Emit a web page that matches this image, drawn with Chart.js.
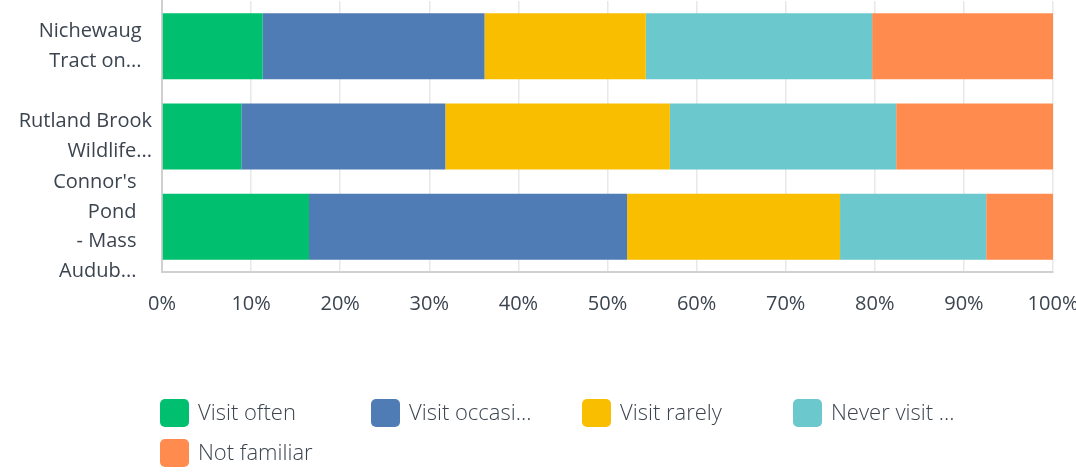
<!DOCTYPE html>
<html>
<head>
<meta charset="utf-8">
<script src="https://cdn.jsdelivr.net/npm/chart.js@4/dist/chart.umd.min.js"></script>
<style>
  body { margin: 0; background: #fff; }
  #wrap { width: 1076px; height: 472px; position: relative; }
</style>
</head>
<body>
<div id="wrap"><canvas id="myChart"></canvas></div>
<script>
// kategoriler (ekranda görünen kısaltılmış haliyle)
const categories = [
    ['Nichewaug  ', 'Tract on...  '],
    ['Rutland Brook', 'Wildlife...'],
    ["Connor's   ", 'Pond   ', '- Mass   ', 'Audub...   ']
];

// seriler - yüzde değerleri
const seriesNames = ['Visit often', 'Visit occasi...', 'Visit rarely', 'Never visit ...', 'Not familiar'];
const visitOften      = [11.3, 8.9, 16.5];
const visitOccasional = [24.9, 22.9, 35.7];
const visitRarely     = [18.1, 25.2, 23.9];
const neverVisit      = [25.4, 25.4, 16.4];
const notFamiliar     = [20.3, 17.6, 7.5];

const xTicks = [0, 10, 20, 30, 40, 50, 60, 70, 80, 90, 100];

const colors = ['#00bf6f', '#507cb6', '#f9be00', '#6bc8cd', '#ff8b4f'];
const seriesValues = [visitOften, visitOccasional, visitRarely, neverVisit, notFamiliar];

const textColor = '#3b444f';
const fontFamily = "'Open Sans', 'DejaVu Sans', sans-serif";

// legend'i sabit kolonlarla kendimiz çiziyoruz
const gridLegend = {
    id: 'gridLegend',
    afterDraw(chart) {
        const ctx = chart.ctx;
        const colW = 211;
        const startX = 160;
        const rowY = [413, 453];
        ctx.save();
        ctx.font = '300 22px ' + fontFamily;
        ctx.textBaseline = 'middle';
        ctx.textAlign = 'left';
        chart.data.datasets.forEach((ds, i) => {
            const col = i % 4;
            const row = Math.floor(i / 4);
            const x = startX + col * colW;
            const y = rowY[row];
            ctx.fillStyle = ds.backgroundColor;
            ctx.beginPath();
            ctx.roundRect(x, y - 14, 29, 28, 5);
            ctx.fill();
            ctx.fillStyle = textColor;
            ctx.fillText(ds.label, x + 38, y + 1);
        });
        ctx.restore();
    }
};

const ctx = document.getElementById('myChart').getContext('2d');
const chart = new Chart(ctx, {
    type: 'bar',
    data: {
        labels: categories,
        datasets: seriesNames.map((name, i) => ({
            label: name,
            data: seriesValues[i],
            backgroundColor: colors[i],
            borderWidth: 0,
            barPercentage: 0.73,
            categoryPercentage: 1
        }))
    },
    options: {
        indexAxis: 'y',
        responsive: true,
        maintainAspectRatio: false,
        animation: false,
        layout: { padding: { top: 1, right: 23, left: 0, bottom: 0 } },
        plugins: {
            legend: { display: false },
            tooltip: { enabled: false }
        },
        scales: {
            x: {
                stacked: true,
                min: 0,
                max: 100,
                afterBuildTicks: (scale) => { scale.ticks = xTicks.map(v => ({ value: v })); },
                afterFit: (scale) => {
                    scale.height = 200;
                    scale.paddingLeft = 0;
                    scale.paddingRight = 0;
                },
                grid: { color: '#e8e8e8', lineWidth: 1.5, drawTicks: false },
                border: { color: '#d0d0d0', width: 2 },
                ticks: {
                    padding: 20,
                    color: textColor,
                    maxRotation: 0,
                    font: { family: fontFamily, size: 20 },
                    callback: (v) => v + '%'
                }
            },
            y: {
                stacked: true,
                afterFit: (scale) => {
                    scale.width = 162;
                    scale.paddingTop = 0;
                    scale.paddingBottom = 0;
                },
                grid: { display: false, drawTicks: false },
                border: { color: '#d0d0d0', width: 2 },
                ticks: {
                    autoSkip: false,
                    padding: 10,
                    color: textColor,
                    font: { family: fontFamily, size: 20, lineHeight: 1.48 }
                }
            }
        }
    },
    plugins: [gridLegend]
});
</script>
</body>
</html>
